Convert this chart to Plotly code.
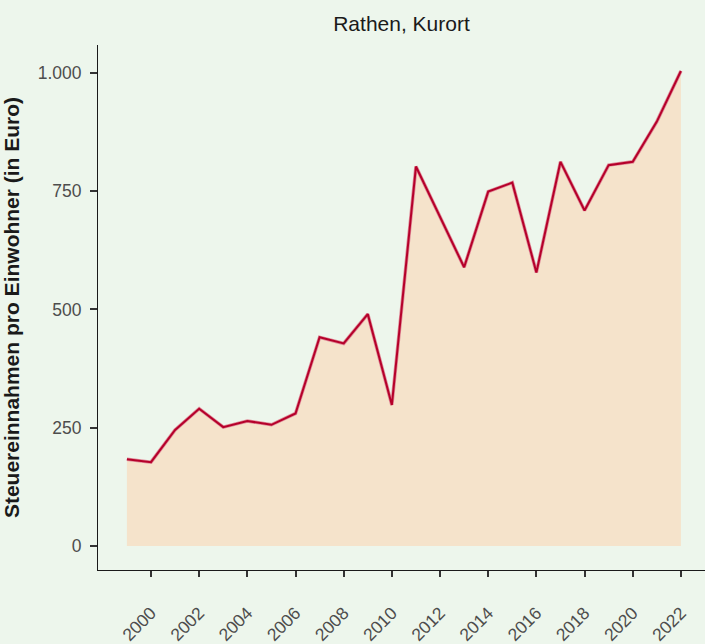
import plotly.graph_objects as go

years = list(range(1999, 2023))
values = [183, 177, 245, 290, 251, 264, 256, 280, 441, 428, 490, 298, 802, 696,
          589, 749, 768, 578, 812, 709, 805, 812, 897, 1004]
tick_years = list(range(2000, 2023, 2))
y_ticks = [0, 250, 500, 750, 1000]

fig = go.Figure()
fig.add_trace(go.Scatter(x=years, y=values, mode="lines", fill="tozeroy",
                         fillcolor="#F5E3CB",
                         line=dict(color="#E08A98", width=3.5), hoverinfo="skip"))
fig.add_trace(go.Scatter(x=years, y=values, mode="lines",
                         line=dict(color="#B5002A", width=2)))

fig.update_layout(
    width=705, height=644,
    paper_bgcolor="#EDF6EC", plot_bgcolor="#EDF6EC",
    margin=dict(l=98, r=0, t=45, b=74),
    showlegend=False,
    separators=",.",
    font=dict(family="Liberation Sans, Arial, sans-serif", color="#4D4D4D", size=14),
    title=dict(text="Rathen, Kurort", xref="paper", x=0.5, xanchor="center",
               yref="container", y=1 - 24 / 644, yanchor="middle",
               font=dict(size=21, color="#1A1A1A")),
    xaxis=dict(range=[1997.8, 2023.0], tickvals=tick_years,
               ticktext=[str(y) for y in tick_years], tickangle=-45,
               showgrid=False, zeroline=False, showline=True, linecolor="#1A1A1A",
               linewidth=1, ticks="outside", ticklen=6, tickwidth=1.5, tickcolor="#333333",
               ticklabelstandoff=19,
               tickfont=dict(size=17.5, color="#4D4D4D")),
    yaxis=dict(range=[-51, 1059], tickvals=y_ticks, tickformat=",",
               showgrid=False, zeroline=False, showline=True, linecolor="#1A1A1A",
               linewidth=1, ticks="outside", ticklen=7, tickwidth=1.5, tickcolor="#333333",
               ticklabelstandoff=5,
               tickfont=dict(size=17.5, color="#4D4D4D")),
)
fig.update_yaxes(title=dict(text="<b>Steuereinnahmen pro Einwohner (in Euro)</b>",
                            font=dict(size=21, color="#1A1A1A"), standoff=12))

fig.write_html("out.html", config={"displayModeBar": False},
               post_script="document.body.style.margin='0';")
